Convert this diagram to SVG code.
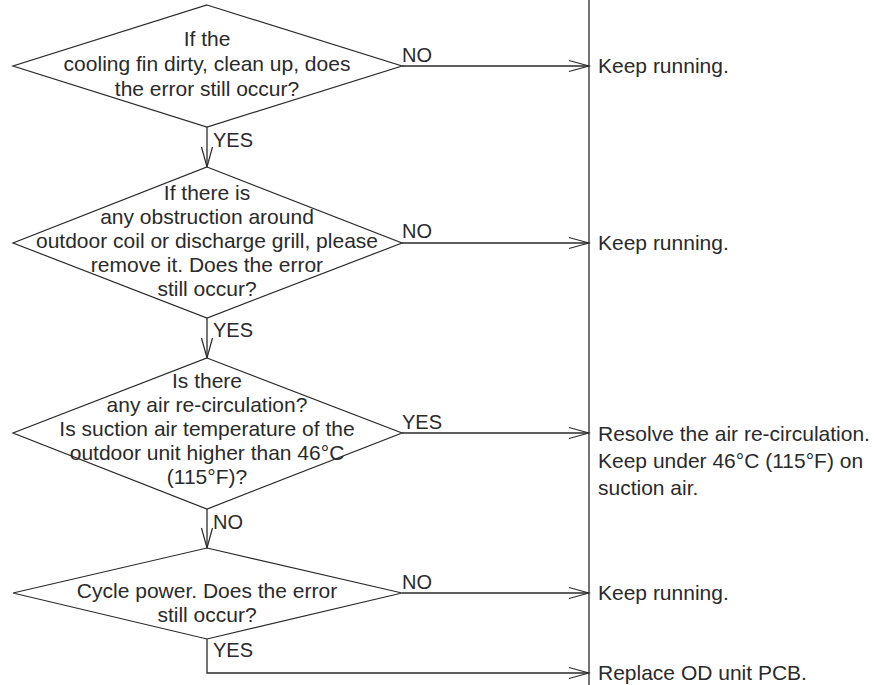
<svg xmlns="http://www.w3.org/2000/svg" width="885" height="685" viewBox="0 0 885 685">
<style>
.d{fill:#fff;stroke:#2a2a2a;stroke-width:1.2}
.c{fill:none;stroke:#2a2a2a;stroke-width:1.3}
.t{font-family:"Liberation Sans",Arial,sans-serif;font-size:21px;fill:#2a2a2a;text-anchor:middle}
.r{font-family:"Liberation Sans",Arial,sans-serif;font-size:21px;fill:#2a2a2a}
.l{font-family:"Liberation Sans",Arial,sans-serif;font-size:20px;fill:#2a2a2a}
</style>
<defs>
<marker id="ah" markerUnits="userSpaceOnUse" markerWidth="24" markerHeight="16" viewBox="-22 -8 24 16" refX="0" refY="0" orient="auto">
<path d="M-20,-5.5 L0,0 L-20,5.5" fill="none" stroke="#2a2a2a" stroke-width="1.2"/>
</marker>
</defs>
<rect width="885" height="685" fill="#fff"/>
<g id="connectors">
<line class="c" x1="589" y1="0" x2="589" y2="685" stroke="#444"/>
<line class="c" x1="207" y1="127" x2="207" y2="167" marker-end="url(#ah)"/>
<line class="c" x1="207" y1="318" x2="207" y2="358" marker-end="url(#ah)"/>
<line class="c" x1="207" y1="509" x2="207" y2="548" marker-end="url(#ah)"/>
<path class="c" d="M207,639 V673 H589" marker-end="url(#ah)"/>
<line class="c" x1="402" y1="66" x2="589" y2="66" marker-end="url(#ah)"/>
<line class="c" x1="402" y1="243" x2="589" y2="243" marker-end="url(#ah)"/>
<line class="c" x1="402" y1="433" x2="589" y2="433" marker-end="url(#ah)"/>
<line class="c" x1="402" y1="593" x2="589" y2="593" marker-end="url(#ah)"/>
<text class="l" x="402" y="62">NO</text>
<text class="l" x="402" y="238">NO</text>
<text class="l" x="402" y="429">YES</text>
<text class="l" x="402" y="589">NO</text>
<text class="l" x="213" y="147">YES</text>
<text class="l" x="213" y="337">YES</text>
<text class="l" x="213" y="529">NO</text>
<text class="l" x="213" y="657">YES</text>
</g>
<g id="q1">
<polygon class="d" points="207,5 402,66 207,127 13,66"/>
<text class="t" x="207" y="46">If the</text>
<text class="t" x="207" y="71">cooling fin dirty, clean up, does</text>
<text class="t" x="207" y="96">the error still occur?</text>
</g>
<g id="q2">
<polygon class="d" points="207,167 402,243 207,318 13,243"/>
<text class="t" x="207" y="200">If there is</text>
<text class="t" x="207" y="224">any obstruction around</text>
<text class="t" x="207" y="248">outdoor coil or discharge grill, please</text>
<text class="t" x="207" y="272">remove it. Does the error</text>
<text class="t" x="207" y="296">still occur?</text>
</g>
<g id="q3">
<polygon class="d" points="207,358 402,433 207,509 13,433"/>
<text class="t" x="207" y="388">Is there</text>
<text class="t" x="207" y="412">any air re-circulation?</text>
<text class="t" x="207" y="436">Is suction air temperature of the</text>
<text class="t" x="207" y="460">outdoor unit higher than 46°C</text>
<text class="t" x="207" y="484">(115°F)?</text>
</g>
<g id="q4">
<polygon class="d" points="207,548 402,593 207,639 13,593"/>
<text class="t" x="207" y="598">Cycle power. Does the error</text>
<text class="t" x="207" y="622">still occur?</text>
</g>
<g id="a1"><text class="r" x="598" y="73">Keep running.</text></g>
<g id="a2"><text class="r" x="598" y="250">Keep running.</text></g>
<g id="a3">
<text class="r" x="598" y="441">Resolve the air re-circulation.</text>
<text class="r" x="598" y="468">Keep under 46°C (115°F) on</text>
<text class="r" x="598" y="495">suction air.</text>
</g>
<g id="a4"><text class="r" x="598" y="600">Keep running.</text></g>
<g id="a5"><text class="r" x="598" y="680">Replace OD unit PCB.</text></g>
</svg>
